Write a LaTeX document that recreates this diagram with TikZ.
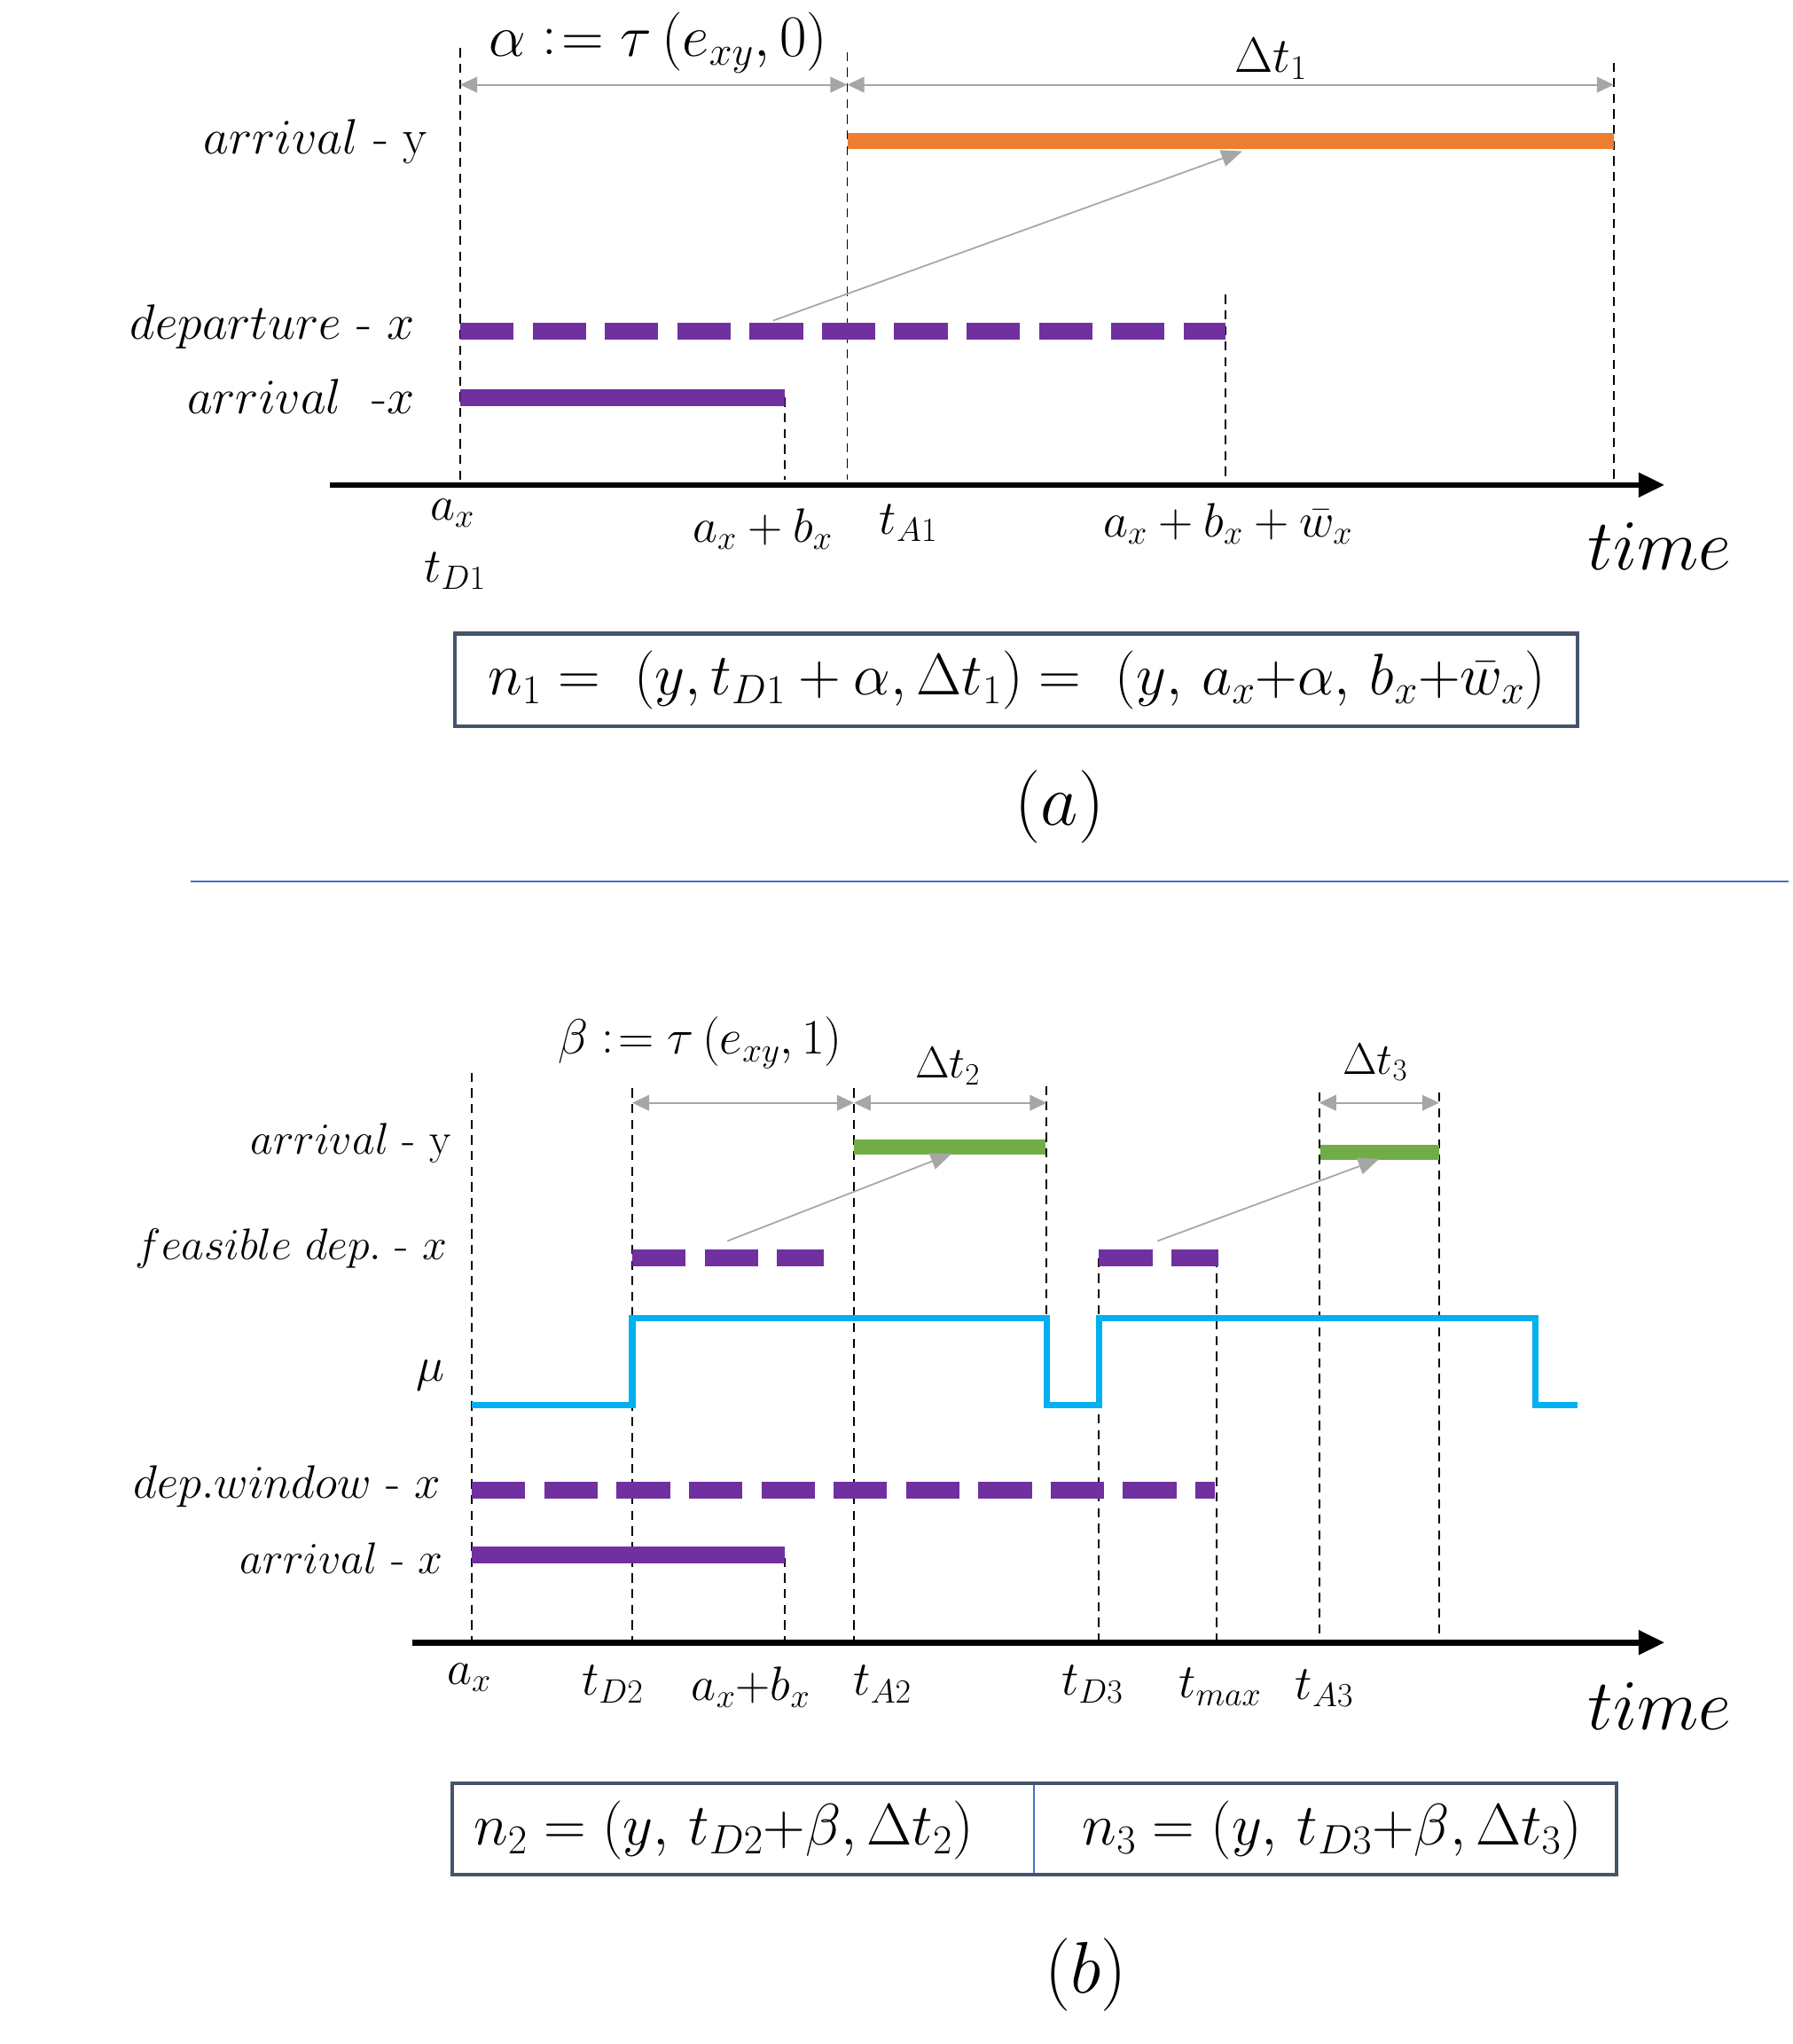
\RequirePackage{fix-cm}
\documentclass[tikz,border=0pt]{standalone}
\usepackage{amsmath}
\usetikzlibrary{arrows.meta}
\definecolor{cOrange}{HTML}{ED7D31}
\definecolor{cPurple}{HTML}{7030A0}
\definecolor{cGreen}{HTML}{70AD47}
\definecolor{cMu}{HTML}{00B0F0}
\definecolor{cGray}{HTML}{A6A6A6}
\definecolor{cBox}{HTML}{44546A}
\definecolor{cSep}{HTML}{4472C4}
\newcommand{\myceq}{\mathrel{\vcenter{\hbox{$:$}}\mkern-3.5mu=}}
\begin{document}
\begin{tikzpicture}[x=1pt,y=-1pt,
  guide/.style={black, line width=1.3pt, dash pattern=on 7pt off 5pt},
  dimarrow/.style={cGray, line width=1.3pt, {Triangle[length=13pt,width=12pt]}-{Triangle[length=13pt,width=12pt]}},
  linkarrow/.style={cGray, line width=1.2pt, -{Triangle[length=16pt,width=13pt]}},
  solidbar/.style={line width=12pt},
  dashbar/.style={cPurple, line width=13pt, dash pattern=on 41pt off 14.5pt},
  timeaxis/.style={black, line width=4.5pt, -{Triangle[length=20pt,width=18pt]}},
  mustep/.style={cMu, line width=5pt},
  rowlabel/.style={anchor=east, inner sep=0pt, font=\fontsize{34}{40}\selectfont},
  rowlabelA/.style={anchor=east, inner sep=0pt, font=\fontsize{38}{44}\selectfont},
  ticklabel/.style={inner sep=0pt, font=\fontsize{37}{44}\selectfont},
  dimlabel/.style={inner sep=0pt, font=\fontsize{38}{44}\selectfont},
  timelabel/.style={inner sep=0pt, font=\fontsize{55}{60}\selectfont},
  captionlabel/.style={inner sep=0pt, font=\fontsize{56}{62}\selectfont},
  formula/.style={inner sep=0pt, font=\fontsize{45}{50}\selectfont},
  framebox/.style={draw=cBox, line width=3pt}
]
\useasboundingbox (0,0) rectangle (1375,1568);

% ================= panel (a) =================
\coordinate (gA1t) at (353,37);   \coordinate (gA1b) at (353,368);
\coordinate (gA2t) at (650,40);   \coordinate (gA2b) at (650,368);
\coordinate (gA3t) at (602,305);  \coordinate (gA3b) at (602,368);
\coordinate (gA4t) at (940,226);  \coordinate (gA4b) at (940,368);
\coordinate (gA5t) at (1238,48);  \coordinate (gA5b) at (1238,368);
\foreach \i in {1,...,5} {\draw[guide] (gA\i t) -- (gA\i b);}

\coordinate (dA1) at (353,65); \coordinate (dA2) at (650,65); \coordinate (dA3) at (1238,65);
\draw[dimarrow] (dA1) -- (dA2);
\draw[dimarrow] (dA2) -- (dA3);
\node[dimlabel, font=\fontsize{45}{50}\selectfont] (alphalab) at (505,33) {$\alpha \myceq \tau\left(e_{xy}, 0\right)$};
\node[dimlabel] (dt1lab) at (975,45) {$\Delta t_1$};

\coordinate (oyS) at (650,108); \coordinate (oyE) at (1238,108);
\draw[solidbar, cOrange] (oyS) -- (oyE);
\coordinate (dxS) at (353,254); \coordinate (dxE) at (940,254);
\draw[dashbar] (dxS) -- (dxE);
\coordinate (axS) at (353,305); \coordinate (axE) at (602,305);
\draw[solidbar, cPurple, line width=13pt] (axS) -- (axE);

\coordinate (lA1) at (593,246); \coordinate (lA2) at (953,116);
\draw[linkarrow] (lA1) -- (lA2);

\node[rowlabelA] (rA1) at (328,109) {$arrival$ - y};
\node[rowlabelA] (rA2) at (318,251) {$departure$ - $x$};
\node[rowlabelA] (rA3) at (318,304) {$arrival$ \ -$x$};

\coordinate (axA1) at (253,372); \coordinate (axA2) at (1277,372);
\draw[timeaxis] (axA1) -- (axA2);

\node[ticklabel] (tA1) at (347,394) {$a_x$};
\node[ticklabel] (tA2) at (349,438) {$t_{D1}$};
\node[ticklabel] (tA3) at (585,406) {$a_x + b_x$};
\node[ticklabel] (tA4) at (697,401) {$t_{A1}$};
\node[ticklabel] (tA5) at (942,402) {$a_x + b_x + \bar{w}_x$};
\node[timelabel] (timeA) at (1273,419) {$time$};

\draw[framebox] (349,486) rectangle (1210,557);
\node[formula] (fA) at (780,522) {$n_1 =\ \left(y, t_{D1} + \alpha, \Delta t_1\right) =\ \left(y,\, a_x{+}\alpha,\, b_x{+}\bar{w}_x\right)$};
\node[captionlabel] (capA) at (813,619) {$(a)$};

\coordinate (sep1) at (146,676); \coordinate (sep2) at (1372,676);
\draw[cSep, line width=1.2pt] (sep1) -- (sep2);

% ================= panel (b) =================
\coordinate (gB1t) at (362,823);  \coordinate (gB1b) at (362,1258);
\coordinate (gB2t) at (485,835);  \coordinate (gB2b) at (485,1258);
\coordinate (gB3t) at (602,1195); \coordinate (gB3b) at (602,1258);
\coordinate (gB4t) at (655,835);  \coordinate (gB4b) at (655,1258);
\coordinate (gB5t) at (803,833);  \coordinate (gB5b) at (803,1011);
\coordinate (gB6t) at (843,965);  \coordinate (gB6b) at (843,1258);
\coordinate (gB7t) at (933,965);  \coordinate (gB7b) at (933,1258);
\coordinate (gB8t) at (1012,838); \coordinate (gB8b) at (1012,1258);
\coordinate (gB9t) at (1104,838); \coordinate (gB9b) at (1104,1258);
\foreach \i in {1,...,9} {\draw[guide] (gB\i t) -- (gB\i b);}

\coordinate (dB1) at (485,846); \coordinate (dB2) at (655,846); \coordinate (dB3) at (803,846);
\coordinate (dB4) at (1012,846); \coordinate (dB5) at (1104,846);
\draw[dimarrow] (dB1) -- (dB2);
\draw[dimarrow] (dB2) -- (dB3);
\draw[dimarrow] (dB4) -- (dB5);
\node[dimlabel] (betalab) at (537,800) {$\beta \myceq \tau\left(e_{xy}, 1\right)$};
\node[dimlabel, font=\fontsize{34}{40}\selectfont] (dt2lab) at (727,818) {$\Delta t_2$};
\node[dimlabel, font=\fontsize{34}{40}\selectfont] (dt3lab) at (1055,815) {$\Delta t_3$};

\coordinate (g1S) at (655,880); \coordinate (g1E) at (802,880);
\coordinate (g2S) at (1013,884); \coordinate (g2E) at (1104,884);
\draw[solidbar, cGreen] (g1S) -- (g1E);
\draw[solidbar, cGreen] (g2S) -- (g2E);

\coordinate (f1S) at (485,965); \coordinate (f1E) at (632,965);
\coordinate (f2S) at (843,965); \coordinate (f2E) at (935,965);
\draw[dashbar] (f1S) -- (f1E);
\draw[dashbar] (f2S) -- (f2E);

\coordinate (lB1) at (558,952); \coordinate (lB2) at (730,885);
\coordinate (lB3) at (888,952); \coordinate (lB4) at (1058,889);
\draw[linkarrow] (lB1) -- (lB2);
\draw[linkarrow] (lB3) -- (lB4);

\coordinate (m0) at (362,1078);
\coordinate (m1) at (485,1078); \coordinate (m2) at (485,1011);
\coordinate (m3) at (803,1011); \coordinate (m4) at (803,1078);
\coordinate (m5) at (843,1078); \coordinate (m6) at (843,1011);
\coordinate (m7) at (1178,1011); \coordinate (m8) at (1178,1078);
\coordinate (m9) at (1210,1078);
\draw[mustep] (m0) -- (m1) -- (m2) -- (m3) -- (m4) -- (m5) -- (m6) -- (m7) -- (m8) -- (m9);

\coordinate (wS) at (362,1143); \coordinate (wE) at (932,1143);
\draw[dashbar] (wS) -- (wE);
\coordinate (bxS) at (362,1193); \coordinate (bxE) at (602,1193);
\draw[solidbar, cPurple, line width=13pt] (bxS) -- (bxE);

\node[rowlabel] (rB1) at (346,877) {$arrival$ - y};
\node[rowlabel] (rB2) at (343,958) {$feasible\ dep.$ - $x$};
\node[ticklabel] (rB3) at (330,1055) {$\mu$};
\node[rowlabel, font=\fontsize{36}{42}\selectfont] (rB4) at (338,1140) {$dep.window$ - $x$};
\node[rowlabel] (rB5) at (340,1195) {$arrival$ - $x$};

\coordinate (axB1) at (316,1260); \coordinate (axB2) at (1277,1260);
\draw[timeaxis] (axB1) -- (axB2);

\node[ticklabel] (tB1) at (360,1287) {$a_x$};
\node[ticklabel] (tB2) at (470,1292) {$t_{D2}$};
\node[ticklabel] (tB3) at (576,1294) {$a_x{+}b_x$};
\node[ticklabel] (tB4) at (677,1292) {$t_{A2}$};
\node[ticklabel] (tB5) at (838,1292) {$t_{D3}$};
\node[ticklabel] (tB6) at (936,1294) {$t_{max}$};
\node[ticklabel] (tB7) at (1016,1295) {$t_{A3}$};
\node[timelabel] (timeB) at (1273,1309) {$time$};

\draw[framebox] (347,1368) rectangle (1240,1438);
\coordinate (divT) at (793,1369.5); \coordinate (divB) at (793,1436.5);
\draw[cSep, line width=1.2pt] (divT) -- (divB);
\node[formula] (fB1) at (555,1404) {$n_2 = \left(y,\, t_{D2}{+}\beta, \Delta t_2\right)$};
\node[formula] (fB2) at (1022,1404) {$n_3 = \left(y,\, t_{D3}{+}\beta, \Delta t_3\right)$};
\node[captionlabel] (capB) at (833,1515) {$(b)$};
\end{tikzpicture}
\end{document}
